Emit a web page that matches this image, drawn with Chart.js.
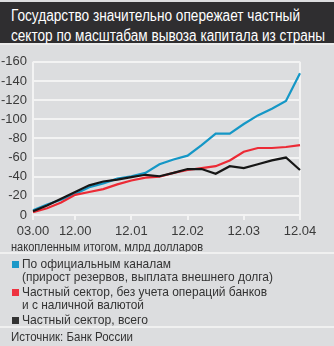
<!DOCTYPE html>
<html>
<head>
<meta charset="utf-8">
<script src="https://cdn.jsdelivr.net/npm/chart.js@4/dist/chart.umd.min.js"></script>
<style>
    body { margin: 0; width: 334px; height: 346px; background: #dcdddf; position: relative; overflow: hidden;
           font-family: "Liberation Sans", Arial, sans-serif; color: #333; }
    .fit { display: inline-block; white-space: nowrap; transform-origin: 0 0; }
    #title { position: absolute; left: 0; top: 2px; width: 334px; height: 43px; background: #2f2e30;
             border-bottom: 2px solid #ebebeb; color: #fff; font-size: 16px; line-height: 20px;
             box-sizing: border-box; padding: 4px 0 0 11px; }
    #chart_box { position: absolute; left: 0; top: 48px; width: 334px; height: 192px; }
    #units { position: absolute; left: 11px; top: 239px; font-size: 13px; }
    .sep { position: absolute; left: 0; width: 334px; height: 2px; background: #f0f0f0; }
    .item { position: absolute; left: 22px; font-size: 13px; line-height: 12.5px; }
    .item i { position: absolute; left: -10px; top: 3px; width: 7px; height: 7px; }
    #source { position: absolute; left: 11px; top: 329px; font-size: 13px; }
</style>
</head>
<body>
<div id="title"><span class="fit" data-w="289">Государство значительно опережает частный</span><br><span class="fit" data-w="314">сектор по масштабам вывоза капитала из страны</span></div>
<div id="chart_box"><canvas id="capital_chart"></canvas></div>
<div id="units"><span class="fit" data-w="192">накопленным итогом, млрд долларов</span></div>
<div class="sep" style="top:252px"></div>
<div class="item" style="top:258px"><i style="background:#1b98c8"></i><span class="fit" data-w="149">По официальным каналам</span><br><span class="fit" data-w="251">(прирост резервов, выплата внешнего долга)</span></div>
<div class="item" style="top:286px"><i style="background:#ee3340"></i><span class="fit" data-w="245">Частный сектор, без учета операций банков</span><br><span class="fit" data-w="122">и с наличной валютой</span></div>
<div class="item" style="top:314px"><i style="background:#333"></i><span class="fit" data-w="126">Частный сектор, всего</span></div>
<div class="sep" style="top:326px"></div>
<div id="source"><span class="fit" data-w="122">Источник: Банк России</span></div>

<script>
// quarters 03.00 ... 12.04
const quarters = [
    '03.00', '06.00', '09.00', '12.00',
    '03.01', '06.01', '09.01', '12.01',
    '03.02', '06.02', '09.02', '12.02',
    '03.03', '06.03', '09.03', '12.03',
    '03.04', '06.04', '09.04', '12.04'
];

// billions of dollars, cumulative (outflow is negative)
const official_channels = [-5, -11, -16, -22, -29, -33, -38, -40.5, -44, -53, -58, -62, -73, -85, -85, -95, -104, -111, -119, -148];
const private_no_banks  = [-3, -7, -13, -21, -24, -27, -32, -36, -39, -40, -44, -47, -49, -51, -57, -66, -70, -70, -71, -73];
const private_total     = [-4, -10, -17, -24, -31, -35, -37, -39.5, -42, -40.5, -44, -48, -48, -43, -51, -49, -53, -57, -60, -47];

const y_ticks = [-160, -140, -120, -100, -80, -60, -40, -20, 0];

const grid_white = '#f3f3f3';
const tick_font  = { family: '"Liberation Sans", Arial, sans-serif', size: 13 };

// squeeze each text line to its width (the original face is a condensed one)
document.querySelectorAll('.fit').forEach( function( el ){
    let w = el.getBoundingClientRect().width;
    el.style.transform = 'scaleX(' + ( el.dataset.w / w ) + ')';
});

function is_labelled( index ){
    return index === 0 || quarters[index].indexOf('12.') === 0;
}

function make_line( data, color, order ){
    return {
        data: data,
        borderColor: color,
        borderWidth: 2.2,
        pointRadius: 0,
        tension: 0,
        fill: false,
        order: order
    };
}

const capital_chart = new Chart(
    document.getElementById('capital_chart'),
    {
        type: 'line',
        data: {
            labels: quarters,
            datasets: [
                make_line( official_channels, '#1597c6', 2 ),
                make_line( private_no_banks, '#ec2a35', 1 ),
                make_line( private_total, '#161616', 0 )
            ]
        },
        options: {
            responsive: true,
            maintainAspectRatio: false,
            animation: false,
            layout: { padding: { top: 5, right: 34, bottom: 0, left: 0 } },
            plugins: {
                legend: { display: false },
                tooltip: { enabled: false }
            },
            scales: {
                x: {
                    offset: false,
                    border: { display: false },
                    grid: {
                        lineWidth: 2,
                        tickLength: 5,
                        color: ctx => ( ctx.index === 0 || ctx.index === quarters.length - 1 ) ? grid_white : 'rgba(0,0,0,0)',
                        tickColor: ctx => is_labelled( ctx.index ) ? grid_white : 'rgba(0,0,0,0)'
                    },
                    ticks: {
                        autoSkip: false,
                        maxRotation: 0,
                        padding: 4,
                        color: '#3a3a3a',
                        font: tick_font,
                        callback: function( value, index ){
                            return is_labelled( index ) ? quarters[index] : '';
                        }
                    },
                    afterFit: scale => { scale.height = 25; }
                },
                y: {
                    reverse: true,
                    min: -160,
                    max: 0,
                    border: { display: false },
                    grid: { color: grid_white, lineWidth: 2, drawTicks: false },
                    afterBuildTicks: scale => { scale.ticks = y_ticks.map( v => ({ value: v }) ); },
                    ticks: {
                        padding: 6,
                        color: '#3a3a3a',
                        font: tick_font
                    },
                    afterFit: scale => { scale.width = 33; }
                }
            }
        }
    }
);
</script>
</body>
</html>
